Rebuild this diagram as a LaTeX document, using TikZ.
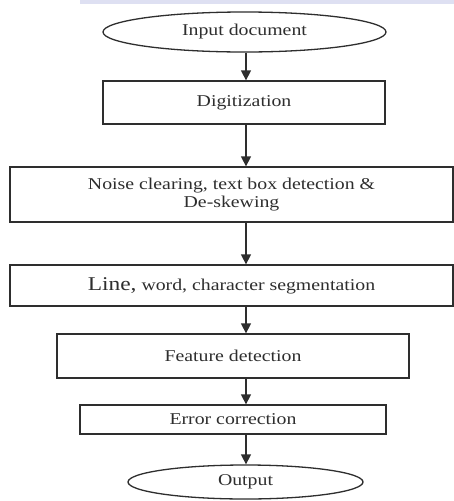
\documentclass[tikz,border=0pt]{standalone}
\usepackage{fontspec}
\setmainfont{Liberation Serif}[FakeStretch=1.2]
\usetikzlibrary{shapes.geometric,arrows.meta}
\definecolor{inkc}{gray}{0.18}
\definecolor{bandc}{RGB}{222,224,242}
\begin{document}
\begin{tikzpicture}[x=1pt,y=-1pt,
  stepbox/.style={draw=inkc,line width=1.3pt,rectangle,inner sep=0pt,align=center,text=inkc},
  termbox/.style={draw=inkc,line width=1.3pt,ellipse,inner sep=0pt,text=inkc},
  arr/.style={draw=inkc,line width=1.4pt,-{Triangle[width=10pt,length=10pt]}},
  every node/.style={font=\fontsize{16.5}{18}\selectfont}]
\useasboundingbox[fill=white] (0,0) rectangle (454,501);
\fill[bandc] (80,0) rectangle (454,4);
\node[termbox,minimum width=283pt,minimum height=40pt] (in) at (244.5,32) {Input document};
\node[stepbox,minimum width=282pt,minimum height=43pt] (dig) at (244,102.5) {Digitization};
\node[stepbox,minimum width=443pt,minimum height=55pt] (noise) at (231.5,194.5) {Noise clearing, text box detection \&\\De-skewing};
\node[stepbox,minimum width=443pt,minimum height=41pt] (seg) at (231.5,285.5) {{\fontsize{19.5}{20}\selectfont Line,} word, character segmentation};
\node[stepbox,minimum width=352pt,minimum height=44pt] (feat) at (233,356) {Feature detection};
\node[stepbox,minimum width=306pt,minimum height=29pt] (err) at (233,419.5) {Error correction};
\node[termbox,minimum width=235pt,minimum height=34pt] (out) at (245.5,482) {Output};
\coordinate (ax) at (246,0);
\draw[arr] (ax |- in.south) -- (ax |- dig.north);
\draw[arr] (ax |- dig.south) -- (ax |- noise.north);
\draw[arr] (ax |- noise.south) -- (ax |- seg.north);
\draw[arr] (ax |- seg.south) -- (ax |- feat.north);
\draw[arr] (ax |- feat.south) -- (ax |- err.north);
\draw[arr] (ax |- err.south) -- (ax |- out.north);
\end{tikzpicture}
\end{document}
